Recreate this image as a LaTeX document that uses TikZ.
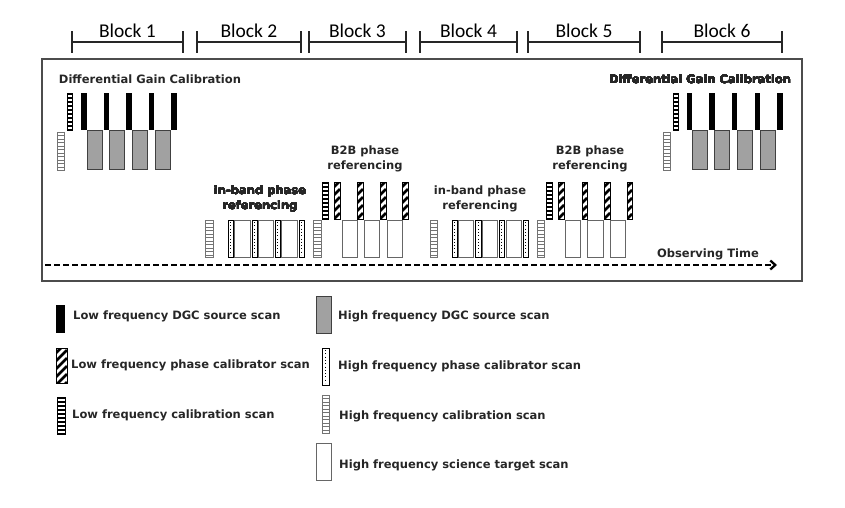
\documentclass[tikz,border=0pt]{standalone}
\usepackage{fontspec}
\setmainfont{DejaVu Sans}
\newfontfamily\blockfont{Carlito}
\usetikzlibrary{arrows.meta}
\newcommand\scBlack[4]{\fill[black] (#1,#2) rectangle (#3,#4);}
\newcommand\scGray[4]{\draw[draw=black!75,fill=black!37,line width=1pt] (#1,#2) rectangle (#3,#4);}
\newcommand\scWhite[4]{\draw[draw=black!60,fill=white,line width=0.9pt] (#1,#2) rectangle (#3,#4);}
\newcommand\scLcal[4]{\fill[black] (#1,#2) rectangle (#3,#4);
  \foreach \i in {0,...,8} \draw[white,line width=1.8pt] ({#1+1.4},{#2+3+4*\i}) -- ({#3-1.4},{#2+3+4*\i});}
\newcommand\scHcal[4]{\draw[fill=white,draw=black!55,line width=0.8pt] (#1,#2) rectangle (#3,#4);
  \foreach \i in {1,...,10} \draw[black!55,line width=1pt] (#1,{#2+3.5*\i}) -- (#3,{#2+3.5*\i});}
\newcommand\scHatch[4]{\begin{scope}\clip (#1,#2) rectangle (#3,#4);
  \fill[white] (#1,#2) rectangle (#3,#4);
  \foreach \i in {0,...,6} \draw[black,line width=2.6pt] (#1,{#2+8*\i+5}) -- (#3,{#2+8*\i+5-(#3-#1)});
  \end{scope}\draw[black,line width=0.9pt] (#1,#2) rectangle (#3,#4);}
\newcommand\scDot[4]{\draw[fill=white,draw=black,line width=0.7pt] (#1,#2) rectangle (#3,#4);
  \draw[black,line width=0.9pt,dash pattern=on 0.9pt off 2.4pt] ({(#1+#3)/2},{#2+2}) -- ({(#1+#3)/2},{#4-2});}
\tikzset{
  lbl/.style={font=\fontsize{11.5}{15}\selectfont\bfseries, text=black!85, inner sep=0pt, align=center},
  leg/.style={lbl, anchor=west},
  blk/.style={font=\blockfont\fontsize{19.5}{20}\selectfont, anchor=base, inner sep=0pt},
  ruler/.style={line width=2pt, black!85}
}
\begin{document}
\begin{tikzpicture}[x=1pt,y=-1pt]
\useasboundingbox (0,0) rectangle (845,507);
% block ruler
\foreach \a/\b/\n in {72/183/1,197/301/2,309/406/3,420/517/4,528/640/5,662/782/6}{
  \draw[ruler] (\a,31) -- (\a,53) (\a,42) -- (\b,42) (\b,31) -- (\b,53);
  \node[blk] (block\n) at ({(\a+\b)/2},37.5) {Block \n};
}
% frame
\draw[black!70,line width=1.1pt] (42,59) rectangle (802,281);
% left DGC
\node[lbl] (dgcL) at (150,79) {Differential Gain Calibration};
\scLcal{67}{93}{73}{131}
\scHcal{57}{132}{64}{170}
\foreach \k in {0,...,4} \scBlack{81+22.6*\k}{93}{86.5+22.6*\k}{130}
\foreach \k in {0,...,3} \scGray{87+22.7*\k}{130}{102+22.7*\k}{169}
% right DGC
\node[lbl] (dgcR) at (700,79) {Differential Gain Calibration};
\scLcal{673}{93}{679}{131}
\scHcal{663}{132}{670}{170}
\foreach \k in {0,...,4} \scBlack{686.5+22.7*\k}{93}{692+22.7*\k}{130}
\foreach \k in {0,...,3} \scGray{692+22.9*\k}{130}{707+22.9*\k}{169}
% in-band phase referencing 1
\node[lbl] (ib1) at (260,199) {in-band phase\\referencing};
\scHcal{205}{220}{213}{257}
\scDot{228}{220}{233}{257}
\scWhite{234}{220}{250}{257}
\scDot{252}{220}{257}{257}
\scWhite{258}{220}{273}{257}
\scDot{275}{220}{280}{257}
\scWhite{281}{220}{297}{257}
\scDot{299}{220}{304}{257}
\scHcal{313}{220}{321}{257}
% B2B 1
\node[lbl] (bb1) at (365,159) {B2B phase\\referencing};
\scLcal{322}{182}{329}{220}
\scHatch{334}{182}{340}{219}
\scHatch{357}{182}{363}{219}
\scHatch{380}{182}{386}{219}
\scHatch{402}{182}{408}{219}
\scWhite{342}{220}{357}{257}
\scWhite{364}{220}{379}{257}
\scWhite{387}{220}{402}{257}
% in-band phase referencing 2
\node[lbl] (ib2) at (480,199) {in-band phase\\referencing};
\scHcal{430}{220}{437}{257}
\scDot{452}{220}{457}{257}
\scWhite{458}{220}{473}{257}
\scDot{475}{220}{481}{257}
\scWhite{482}{220}{497}{257}
\scDot{499}{220}{504}{257}
\scWhite{506}{220}{521}{257}
\scDot{523}{220}{528}{257}
\scHcal{537}{220}{544}{257}
% B2B 2
\node[lbl] (bb2) at (590,159) {B2B phase\\referencing};
\scLcal{546}{182}{553}{220}
\scHatch{558}{182}{564}{219}
\scHatch{582}{182}{587}{219}
\scHatch{604}{182}{610}{219}
\scHatch{627}{182}{632}{219}
\scWhite{565}{220}{580}{257}
\scWhite{587}{220}{603}{257}
\scWhite{610}{220}{625}{257}
% time axis
\node[lbl] (obs) at (708,254) {Observing Time};
\coordinate (t0) at (45,265);
\coordinate (t1) at (777,265);
\draw[line width=2.3pt, dash pattern=on 6pt off 3pt, -{Straight Barb[length=5pt,width=9pt]}] (t0) -- (t1);
% legend
\scBlack{56}{305}{65}{333}
\node[leg] (l1) at (73,316) {Low frequency DGC source scan};
\scHatch{56}{348}{67}{383}
\node[leg] (l2) at (71,365) {Low frequency phase calibrator scan};
\scLcal{57}{397}{66}{435}
\node[leg] (l3) at (72,415) {Low frequency calibration scan};
\scGray{316}{296}{331}{333}
\node[leg] (h1) at (338,316) {High frequency DGC source scan};
\scDot{322}{348}{329}{385}
\node[leg] (h2) at (338,366) {High frequency phase calibrator scan};
\scHcal{322}{395}{329}{433}
\node[leg] (h3) at (339,416) {High frequency calibration scan};
\scWhite{316}{443}{331}{480}
\node[leg] (h4) at (339,465) {High frequency science target scan};
\end{tikzpicture}
\end{document}
